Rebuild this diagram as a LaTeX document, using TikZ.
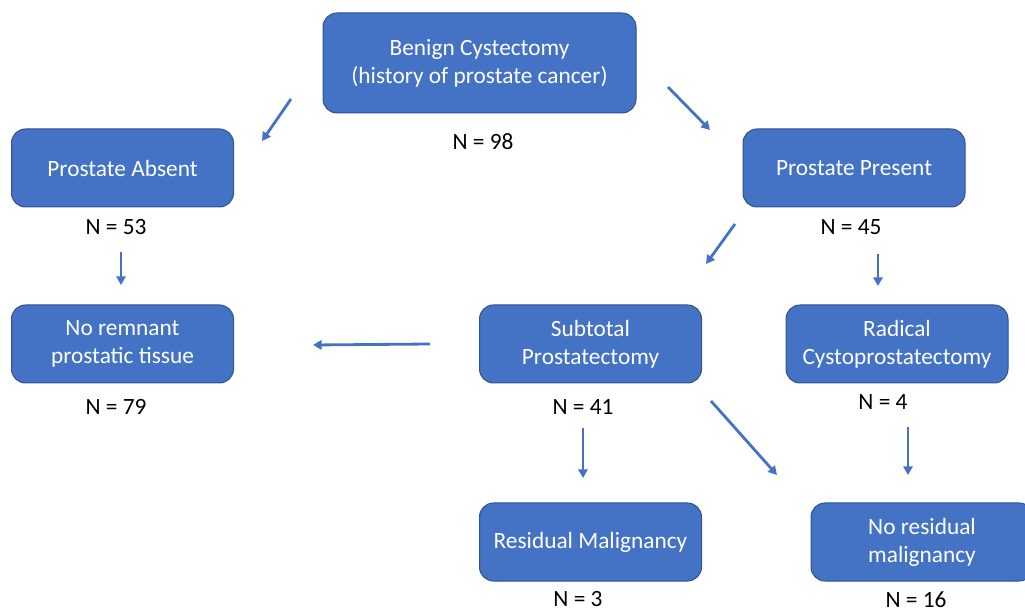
\documentclass[tikz,border=0pt]{standalone}
\usepackage{fontspec}
\setmainfont{Carlito}
\usetikzlibrary{arrows.meta}
\definecolor{boxfill}{HTML}{4472C4}
\definecolor{boxline}{HTML}{2F528F}
\tikzset{
  box/.style={draw=boxline, fill=boxfill, rounded corners=10.5pt, text=white,
    align=center, minimum width=166.5pt, minimum height=58.5pt,
    line width=0.75pt, font=\fontsize{17.5}{21}\selectfont},
  count/.style={inner sep=0.5pt, font=\fontsize{17.5}{21}\selectfont},
  arr/.style={draw=boxfill, line width=2.1pt, -{Triangle[length=6.5pt,width=7pt]}}
}
\begin{document}
\begin{tikzpicture}[x=0.75pt,y=-0.75pt]
	\useasboundingbox (0,0) rectangle (1025,609);
	\clip (0,0) rectangle (1025,609);

	% boxes
	\node[box, minimum width=234.75pt, minimum height=75pt] (benign) at (479.5,63) {Benign Cystectomy\\(history of prostate cancer)};
	\node[box] (absent) at (122.5,168) {Prostate Absent};
	\node[box] (present) at (854,168) {Prostate Present};
	\node[box] (noremnant) at (122.5,344) {No remnant\\prostatic tissue};
	\node[box] (subtotal) at (590.5,344) {Subtotal\\Prostatectomy};
	\node[box] (radical) at (897,344) {Radical\\Cystoprostatectomy};
	\node[box] (residual) at (590.5,542) {Residual Malignancy};
	\node[box] (noresidual) at (922,542) {No residual\\malignancy};

	% counts
	\node[count] (n98) at (483,142) {N = 98};
	\node[count] (n53) at (116,227) {N = 53};
	\node[count] (n45) at (851,227) {N = 45};
	\node[count] (n79) at (116,407) {N = 79};
	\node[count] (n41) at (583,407) {N = 41};
	\node[count] (n4) at (883,402) {N = 4};
	\node[count, anchor=base] (n3) at (578,606.5) {N = 3};
	\node[count, anchor=base] (n16) at (916,607.5) {N = 16};

	% arrow ends
	\coordinate (a1s) at (291,99);  \coordinate (a1e) at (262,141);
	\coordinate (a2s) at (668,87);  \coordinate (a2e) at (710,130);
	\coordinate (a3s) at (121,252); \coordinate (a3e) at (121,285);
	\coordinate (a4s) at (735,224); \coordinate (a4e) at (706,264);
	\coordinate (a5s) at (878,254); \coordinate (a5e) at (878,286);
	\coordinate (a6s) at (430,344); \coordinate (a6e) at (313,345);
	\coordinate (a7s) at (583,428); \coordinate (a7e) at (583,478);
	\coordinate (a8s) at (711,401); \coordinate (a8e) at (777,475);
	\coordinate (a9s) at (908,427); \coordinate (a9e) at (908,475);

	\foreach \i in {1,...,9}
		\draw[arr] (a\i s) -- (a\i e);

\end{tikzpicture}
\end{document}
